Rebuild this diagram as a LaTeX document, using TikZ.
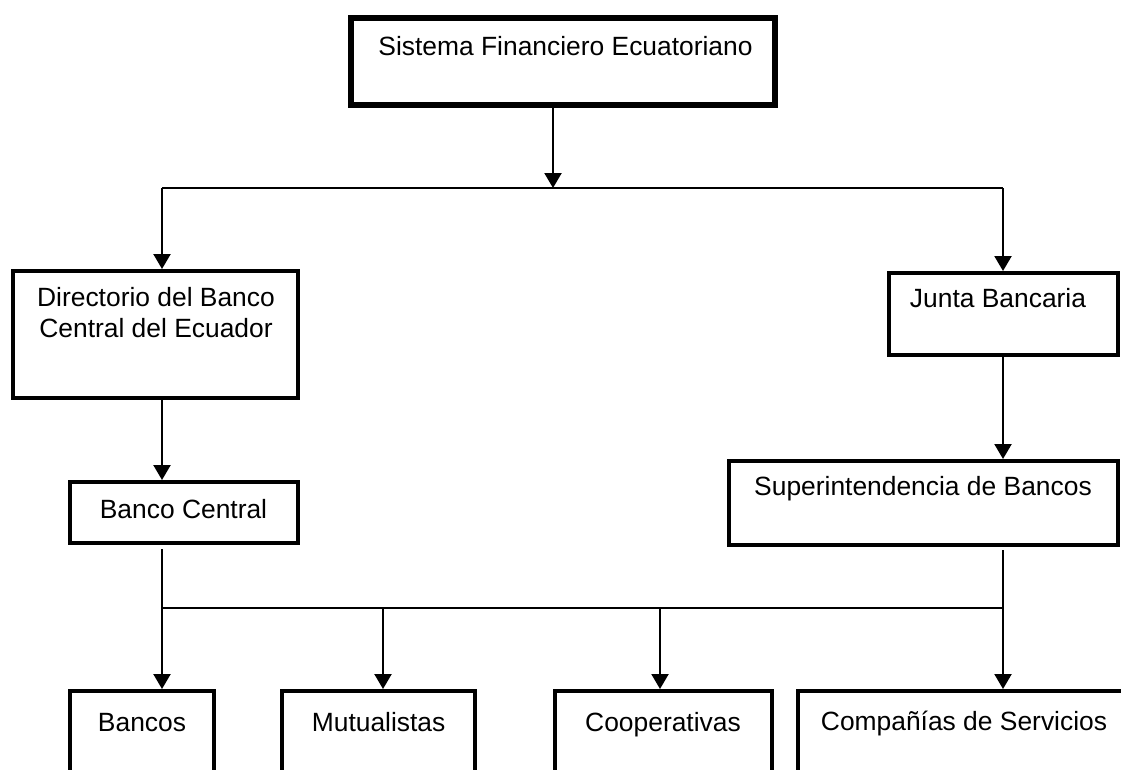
\documentclass[tikz,border=0pt]{standalone}
\usepackage{fontspec}
\setmainfont{Liberation Sans}
\usetikzlibrary{arrows.meta}
\begin{document}
\begin{tikzpicture}[x=1pt,y=-1pt,
  box/.style={draw=black,line width=4pt,rectangle,inner sep=0pt,fill=none},
  topbox/.style={box,line width=6pt},
  lbl/.style={inner sep=0pt,anchor=base,font=\fontsize{26.4}{30.3}\selectfont},
  conn/.style={line width=2.2pt,draw=black},
  arr/.style={conn,-{Triangle[length=15pt,width=17pt]}}]
\useasboundingbox (0,0) rectangle (1121,769);
\clip (0,0) rectangle (1121,769);
\fill[white] (0,0) rectangle (1121,769);
% boxes
\node[topbox,minimum width=424pt,minimum height=87pt] (sis) at (563,61.5) {};
\node[box,minimum width=285pt,minimum height=127pt] (dir) at (155.5,334.5) {};
\node[box,minimum width=229pt,minimum height=82pt] (junta) at (1003.5,314) {};
\node[box,minimum width=389pt,minimum height=84pt] (sup) at (923.5,503) {};
\node[box,minimum width=228pt,minimum height=61pt] (bc) at (184,512.5) {};
\node[box,minimum width=144pt,minimum height=119pt] (bancos) at (142,750.5) {};
\node[box,minimum width=193pt,minimum height=119pt] (mut) at (378.5,750.5) {};
\node[box,minimum width=217pt,minimum height=119pt] (coop) at (663.5,750.5) {};
\node[box,minimum width=332pt,minimum height=119pt] (comp) at (964,750.5) {};
% texts
\node[lbl] (tsis) at (565.5,55) {Sistema Financiero Ecuatoriano};
\node[lbl,anchor=north,align=center] (tdir) at (156,287.5) {Directorio del Banco\\Central del Ecuador};
\node[lbl] (tjunta) at (998,307.7) {Junta Bancaria};
\node[lbl] (tsup) at (923,495.7) {Superintendencia de Bancos};
\node[lbl] (tbc) at (183.5,518) {Banco Central};
\node[lbl] (tbancos) at (142,731) {Bancos};
\node[lbl] (tmut) at (378.6,731) {Mutualistas};
\node[lbl] (tcoop) at (663,731) {Cooperativas};
\node[lbl] (tcomp) at (964,730.5) {Compañías de Servicios};
% junction coordinates
\coordinate (jT) at (553,188);
\coordinate (hL) at (162,188);
\coordinate (hR) at (1003,188);
\coordinate (bL) at (162,608);
\coordinate (bR) at (1003,608);
\coordinate (m1) at (383,608);
\coordinate (m2) at (660,608);
% connectors
\draw[arr] (sis.south -| jT) -- (jT);
\draw[conn] (hL) -- (hR);
\draw[arr] (hL) -- (hL |- dir.north);
\draw[arr] (hR) -- (hR |- junta.north);
\draw[arr] (junta.south -| hR) -- (hR |- sup.north);
\draw[arr] (dir.south -| hL) -- (hL |- bc.north);
\draw[conn,shorten <=4pt] (bc.south -| bL) -- (bL) -- (bR);
\draw[conn,shorten <=3pt] (sup.south -| bR) -- (bR);
\draw[arr] (bL) -- (bL |- bancos.north);
\draw[arr] (m1) -- (m1 |- mut.north);
\draw[arr] (m2) -- (m2 |- coop.north);
\draw[arr] (bR) -- (bR |- comp.north);
\end{tikzpicture}
\end{document}
